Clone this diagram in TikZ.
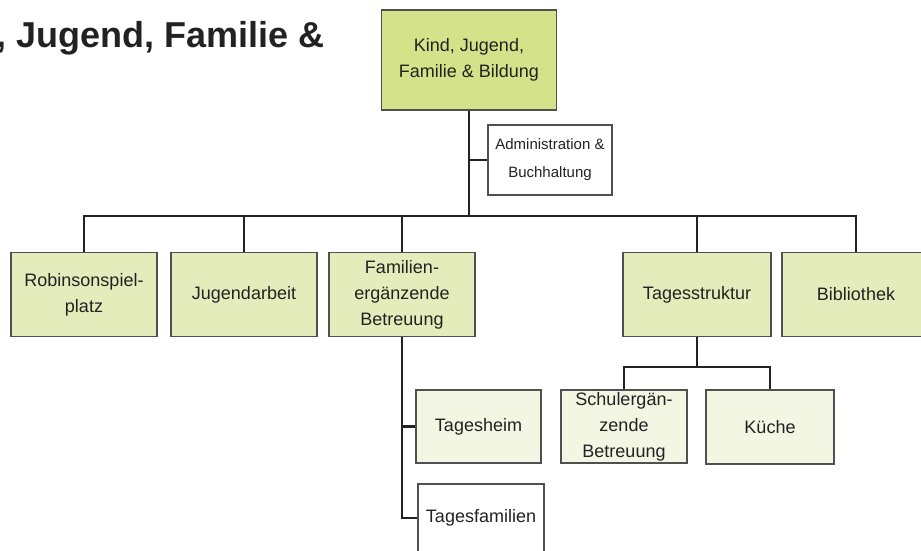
\documentclass[tikz,border=0pt]{standalone}
\usepackage{fontspec}
\setmainfont{Liberation Sans}
\definecolor{topfill}{RGB}{212,227,138}
\definecolor{midfill}{RGB}{227,236,186}
\definecolor{lowfill}{RGB}{243,246,226}
\definecolor{edge}{RGB}{80,80,80}
\definecolor{ink}{RGB}{34,34,34}
\tikzset{
  orgbox/.style={draw=edge, line width=1.2pt, rectangle, inner sep=0pt, align=center,
    text=ink, font=\fontsize{18}{26}\selectfont},
  link/.style={draw=ink, line width=2.5pt}
}
\begin{document}
\begin{tikzpicture}[x=1pt,y=-1pt]
\useasboundingbox (0,0) rectangle (921,551);
\clip (0,0) rectangle (921,551);
% clipped title
\node[anchor=base west, inner sep=0pt, text=ink, font=\fontsize{36}{40}\selectfont\bfseries] (title) at (-84,48) {Kind, Jugend, Familie \&};
% boxes
\node[orgbox, fill=topfill, minimum width=175pt, minimum height=100pt] (top) at (469,60) {Kind, Jugend,\\Familie \& Bildung};
\node[orgbox, fill=white, minimum width=124pt, minimum height=70pt, font=\fontsize{15}{28}\selectfont] (admin) at (550,160) {Administration \&\\Buchhaltung};
\node[orgbox, fill=midfill, minimum width=146pt, minimum height=84pt] (rob) at (84,294.5) {Robinsonspiel-\\platz};
\node[orgbox, fill=midfill, minimum width=146pt, minimum height=84pt] (jug) at (244,294.5) {Jugendarbeit};
\node[orgbox, fill=midfill, minimum width=146pt, minimum height=84pt] (fam) at (402,294.5) {Familien-\\ergänzende\\Betreuung};
\node[orgbox, fill=midfill, minimum width=148pt, minimum height=84pt] (tag) at (697,294.5) {Tagesstruktur};
\node[orgbox, fill=midfill, minimum width=148pt, minimum height=84pt] (bib) at (856,294.5) {Bibliothek};
\node[orgbox, fill=lowfill, minimum width=125pt, minimum height=73pt] (heim) at (478.5,426.5) {Tagesheim};
\node[orgbox, fill=white, minimum width=126pt, minimum height=68pt] (famil) at (481,518) {Tagesfamilien};
\node[orgbox, fill=lowfill, minimum width=126pt, minimum height=73pt] (schul) at (624,426.5) {Schulergän-\\zende\\Betreuung};
\node[orgbox, fill=lowfill, minimum width=128pt, minimum height=74pt] (kuche) at (770,427) {Küche};
% connectors
\coordinate (bar) at (469,216);
\coordinate (tbar) at (697,367);
\draw[link] (top.south) -- (top.south |- bar);
\draw[link] (admin.west) -- (admin.west -| top.south);
\draw[link] (rob.north) -- (rob.north |- bar) -- (bib.north |- bar) -- (bib.north);
\draw[link] (jug.north) -- (jug.north |- bar);
\draw[link] (fam.north) -- (fam.north |- bar);
\draw[link] (tag.north) -- (tag.north |- bar);
\draw[link] (fam.south) |- (famil.west);
\draw[link] (heim.west) -- (heim.west -| fam.south);
\draw[link] (tag.south) -- (tbar);
\draw[link] (schul.north) -- (schul.north |- tbar) -- (kuche.north |- tbar) -- (kuche.north);
\end{tikzpicture}
\end{document}
